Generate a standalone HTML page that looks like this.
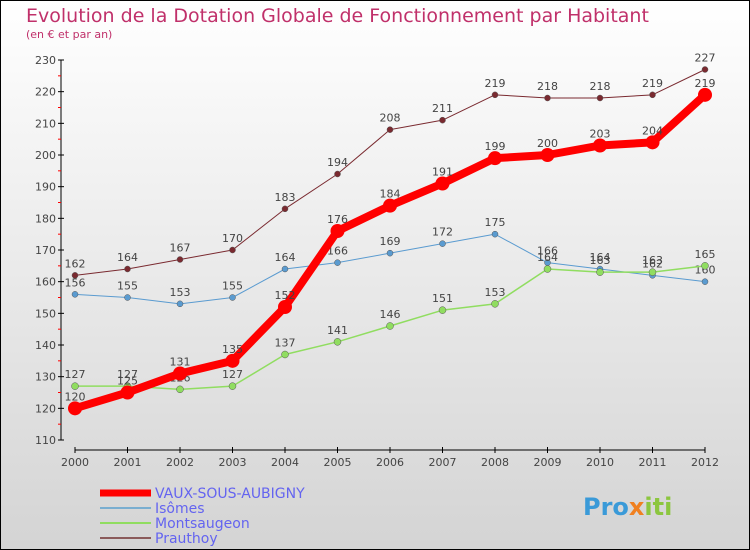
<!DOCTYPE html>
<html><head><meta charset="utf-8"><style>
body{margin:0}
#c{width:750px;height:550px;position:relative;box-sizing:border-box;border:1px solid #000;background:linear-gradient(#fff,#d4d4d4);font-family:"DejaVu Sans","Liberation Sans",sans-serif;overflow:hidden}
svg text{font-family:"DejaVu Sans","Liberation Sans",sans-serif}
</style></head><body>
<div id="c">
<svg id="s" width="750" height="550" style="position:absolute;left:-1px;top:-1px">
<text x="26" y="22" font-size="19" fill="#c0306a">Evolution de la Dotation Globale de Fonctionnement par Habitant</text>
<text x="26" y="38" font-size="11" fill="#c0306a">(en € et par an)</text>
<text x="583" y="515" font-size="24" font-weight="bold" fill="#3a9ad8">Pro<tspan fill="#f08020">x</tspan><tspan fill="#8cc63f">iti</tspan></text>
</svg>
</div>
<script>
const years=[2000,2001,2002,2003,2004,2005,2006,2007,2008,2009,2010,2011,2012];
const yTicks=[110,120,130,140,150,160,170,180,190,200,210,220,230];
const vaux=[120,125,131,135,152,176,184,191,199,200,203,204,219];
const isomes=[156,155,153,155,164,166,169,172,175,166,164,162,160];
const montsaugeon=[127,127,126,127,137,141,146,151,153,164,163,163,165];
const prauthoy=[162,164,167,170,183,194,208,211,219,218,218,219,227];
const NS="http://www.w3.org/2000/svg";
const s=document.getElementById('s');
const X=i=>75+i*52.5;
const Y=v=>440-(v-110)*380/120;
function mk(t,a,p){const e=document.createElementNS(NS,t);for(const k in a)e.setAttribute(k,a[k]);(p||s).appendChild(e);return e;}
// axes
let ya=mk('line',{x1:61,y1:60,x2:61,y2:440,stroke:'#000','stroke-width':1});


yTicks.forEach((v,i)=>{
 mk('line',{x1:58,x2:64,y1:Y(v),y2:Y(v),stroke:'#000'});
 if(i<yTicks.length-1) mk('line',{x1:58,x2:61,y1:Y(v+5),y2:Y(v+5),stroke:'#f00'});
 const t=mk('text',{x:56,y:Y(v)+4,'text-anchor':'end','font-size':11,fill:'#444'});
 t.textContent=v;
 
 
});
let xa=mk('line',{x1:75,y1:450,x2:705,y2:450,stroke:'#000'});


years.forEach((y,i)=>{
 mk('line',{x1:X(i),x2:X(i),y1:447,y2:453,stroke:'#000'});
 const t=mk('text',{x:X(i),y:466,'text-anchor':'middle','font-size':11,fill:'#444'});
 t.textContent=y;
 
 
});
const series=[
 {d:prauthoy,c:'#7a2a30',w:1,r:3,n:'prauthoy'},
 {d:isomes,c:'#5a9bd0',w:1,r:3,n:'isomes'},
 {d:montsaugeon,c:'#90dd60',w:1.5,r:3.5,n:'montsaugeon'},
 {d:vaux,c:'#f00',w:8,r:7,n:'vaux-sous-aubigny'}];
series.forEach(se=>{
 const pl=mk('polyline',{points:se.d.map((v,i)=>X(i)+','+Y(v)).join(' '),fill:'none',stroke:se.c,'stroke-width':se.w,'stroke-linejoin':'round'});
 
 
 se.d.forEach((v,i)=>{
  const c=mk('circle',{cx:X(i),cy:Y(v),r:se.r,fill:se.c,stroke:se.w<2?'#555':'none','stroke-width':0.5});
  
  
  const t=mk('text',{x:X(i),y:Y(v)-8,'text-anchor':'middle','font-size':11,fill:'#444'});
  t.textContent=v;
  
  
 });
});
// legend
const leg=[['VAUX-SOUS-AUBIGNY','#f00',7,493],['Isômes','#7aaed0',2,508],['Montsaugeon','#90dd60',2,523],['Prauthoy','#8a5a5a',2,538]];
leg.forEach(l=>{
 const r=mk('line',{x1:100,x2:151,y1:l[3],y2:l[3],stroke:l[1],'stroke-width':l[2]});
 
 
 const t=mk('text',{x:155,y:l[3]+5,'font-size':14,fill:'#6464f0'});
 t.textContent=l[0];
 
 
});
</script>
</body></html>
